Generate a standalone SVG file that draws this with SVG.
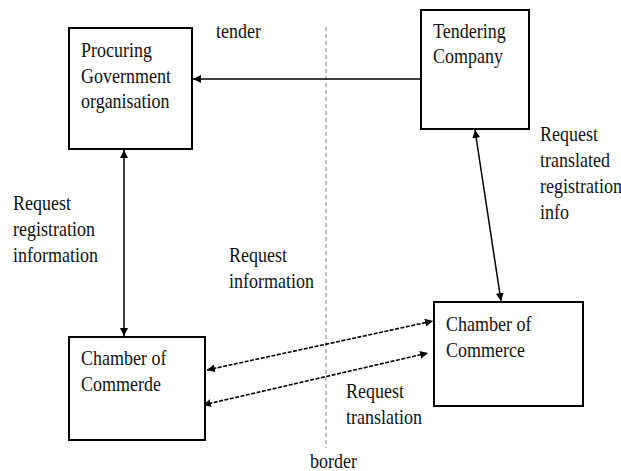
<svg xmlns="http://www.w3.org/2000/svg" width="621" height="471" viewBox="0 0 621 471">
<style>
.box{fill:#fff;stroke:#000;stroke-width:2}
.t{font-family:"Liberation Serif","Times New Roman",serif;font-size:18px;fill:#111}
.ln{fill:none;stroke:#000;stroke-width:1.5}
.dl{fill:none;stroke:#000;stroke-width:1.6;stroke-dasharray:4 1.5}
.border{fill:none;stroke:#aaa;stroke-width:1.5;stroke-dasharray:4 3}
</style>
<defs>
<marker id="ah" viewBox="0 0 10 10" refX="10" refY="5" markerWidth="8" markerHeight="8" markerUnits="userSpaceOnUse" orient="auto-start-reverse">
<path d="M0,0 L10,5 L0,10 z" fill="#000"/>
</marker>
</defs>
<rect width="621" height="471" fill="#fff"/>
<g id="border">
<line class="border" x1="326" y1="27" x2="326" y2="448"/>
<text class="t" transform="translate(310,468) scale(1,1.15)">border</text>
</g>
<g id="connectors">
<line class="ln" x1="421" y1="79" x2="193" y2="79" marker-end="url(#ah)"/>
<line class="ln" x1="124" y1="150" x2="124" y2="336" marker-start="url(#ah)" marker-end="url(#ah)"/>
<line class="ln" x1="475" y1="130" x2="501" y2="301" marker-start="url(#ah)" marker-end="url(#ah)"/>
<line class="dl" x1="207" y1="370" x2="433" y2="321" marker-start="url(#ah)" marker-end="url(#ah)"/>
<line class="dl" x1="203" y1="405" x2="428" y2="353" marker-start="url(#ah)" marker-end="url(#ah)"/>
</g>
<g id="labels">
<text class="t" transform="translate(216,38) scale(1,1.15)">tender</text>
<text class="t" transform="translate(540,141) scale(1,1.15)">Request</text>
<text class="t" transform="translate(540,167) scale(1,1.15)">translated</text>
<text class="t" transform="translate(540,193) scale(1,1.15)">registration</text>
<text class="t" transform="translate(540,219) scale(1,1.15)">info</text>
<text class="t" transform="translate(13,210) scale(1,1.15)">Request</text>
<text class="t" transform="translate(13,236) scale(1,1.15)">registration</text>
<text class="t" transform="translate(13,262) scale(1,1.15)">information</text>
<text class="t" transform="translate(229,262) scale(1,1.15)">Request</text>
<text class="t" transform="translate(229,288) scale(1,1.15)">information</text>
<text class="t" transform="translate(346,398) scale(1,1.15)">Request</text>
<text class="t" transform="translate(346,424) scale(1,1.15)">translation</text>
</g>
<g id="procuring">
<rect class="box" x="69" y="28" width="123" height="121"/>
<text class="t" transform="translate(81,57) scale(1,1.15)">Procuring</text>
<text class="t" transform="translate(81,83) scale(1,1.15)">Government</text>
<text class="t" transform="translate(81,108) scale(1,1.15)">organisation</text>
</g>
<g id="tendering">
<rect class="box" x="421" y="10" width="108" height="119"/>
<text class="t" transform="translate(433,38) scale(1,1.15)">Tendering</text>
<text class="t" transform="translate(433,63) scale(1,1.15)">Company</text>
</g>
<g id="commerce">
<rect class="box" x="434" y="302" width="149" height="104"/>
<text class="t" transform="translate(446,331) scale(1,1.15)">Chamber of</text>
<text class="t" transform="translate(446,357) scale(1,1.15)">Commerce</text>
</g>
<g id="commerde">
<rect class="box" x="69" y="337" width="136" height="103"/>
<text class="t" transform="translate(81,365) scale(1,1.15)">Chamber of</text>
<text class="t" transform="translate(81,391) scale(1,1.15)">Commerde</text>
</g>
</svg>
